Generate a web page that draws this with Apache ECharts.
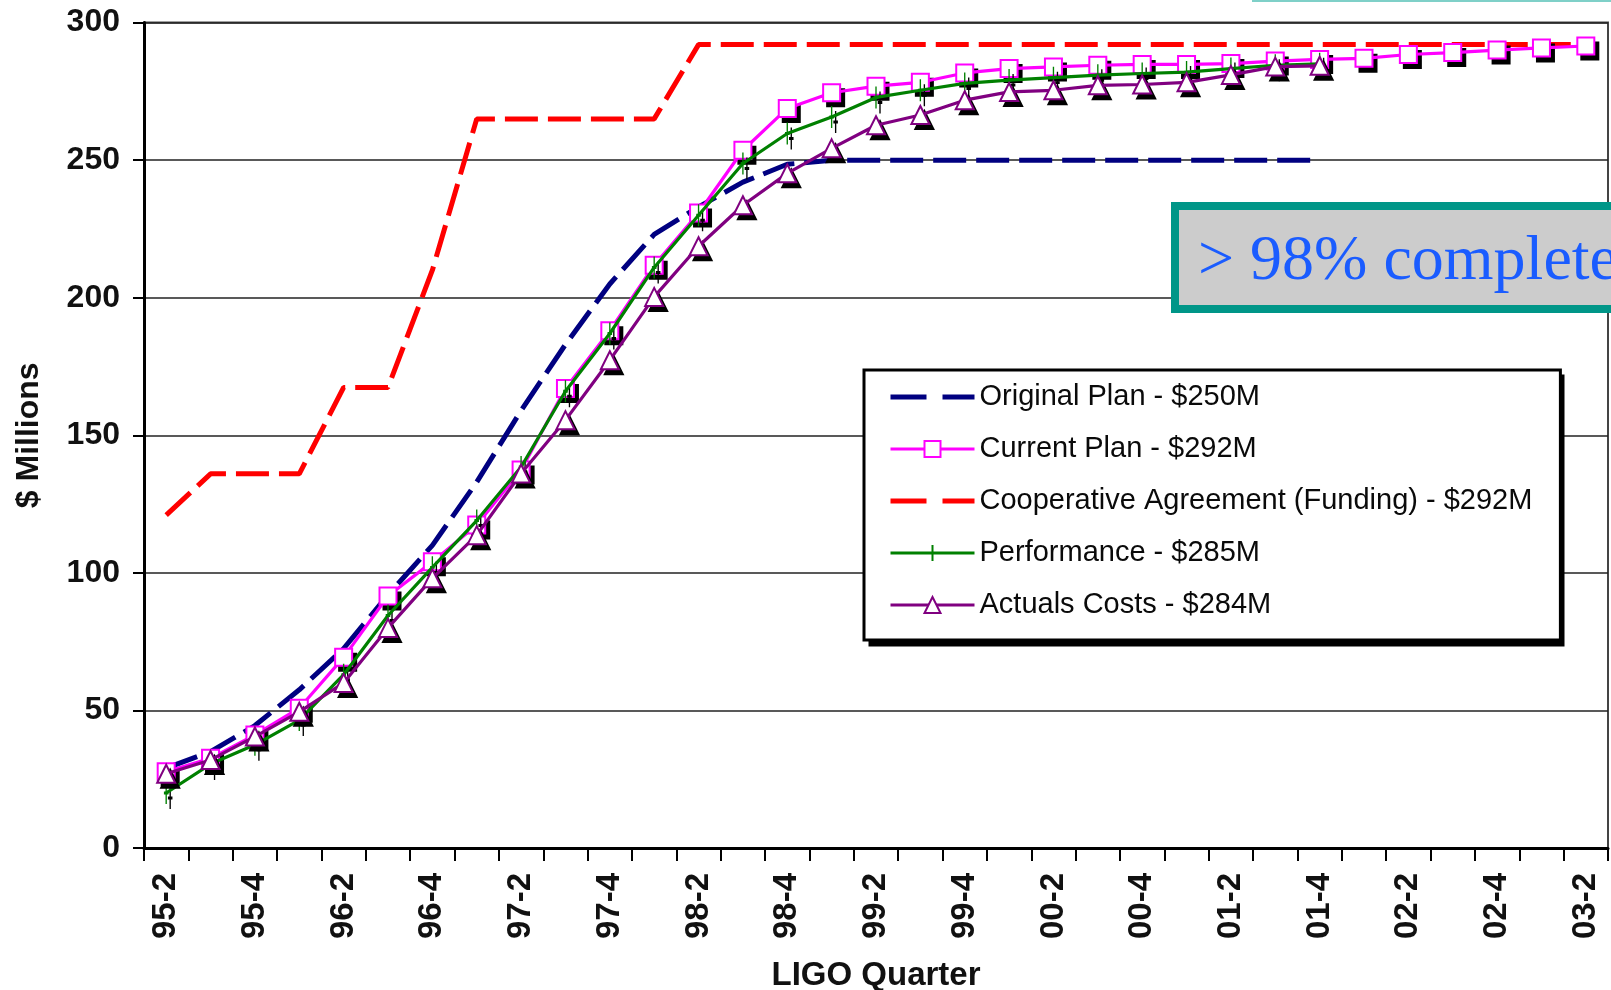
<!DOCTYPE html>
<html><head><meta charset="utf-8">
<script src="https://cdn.jsdelivr.net/npm/echarts@6/dist/echarts.min.js"></script>
<style>html,body{margin:0;padding:0;background:#fff}#c{width:1611px;height:990px}</style>
</head><body><div id="c"></div>
<script>
const quarters = ['95-2','95-3','95-4','96-1','96-2','96-3','96-4','97-1','97-2','97-3','97-4','98-1','98-2','98-3','98-4','99-1','99-2','99-3','99-4','00-1','00-2','00-3','00-4','01-1','01-2','01-3','01-4','02-1','02-2','02-3','02-4','03-1','03-2'];

const originalPlan = [29,35,44.5,57.5,72.5,92,110,133,159,183,205,223,233,242,248.5,250,250,250,250,250,250,250,250,250,250,250,250];
const currentPlan = [27.7,32.6,41.1,50.8,69.3,91.6,104,117.4,137.4,167,188,211.8,230.8,253.6,268.8,274.5,276.9,278.3,281.7,283.3,283.9,284.5,284.8,284.8,285.1,286,286.6,287,288.4,289.1,290,290.8,291.5];
const cooperativeAgreement = [121,136,136,136,167.4,167.4,210,265,265,265,265,265,292,292,292,292,292,292,292,292,292,292,292,292,292,292,292,292,292,292,292,292,292];
const performance = [20,30.5,37.5,46.5,63,84.5,102,119,138.5,166,187,211,230,248.8,259.7,265.7,272.8,275.4,277.9,279.1,280,280.9,281.5,282,283.3,284.5,285];
const actualCosts = [27,32,40.5,49.5,60,80,98,113.7,136.1,155.5,177.3,200.3,218.7,233.6,245.2,254.3,262.7,266.4,271.8,274.8,275.4,277.2,277.5,278.3,281,284,284.3];

const seriesNames = ['Original Plan - $250M','Current Plan - $292M','Cooperative Agreement (Funding) - $292M','Performance - $285M','Actuals Costs - $284M'];

const FONT = '"Liberation Sans", Arial, sans-serif';
const PLUS = 'path://M5,0L5,22M0,11L10,11';
const hidden = 'rgba(0,0,0,0)';

function shadowSeries(data, symbol, size, z) {
  return {name:'_shadow' + z, type:'line', data:data, symbol:symbol, symbolSize:size, symbolOffset:[4,5], symbolKeepAspect:true,
    showAllSymbol:true, z:z, silent:true,
    lineStyle:{opacity:0, width:0},
    itemStyle:{color:'#000', borderColor:'#000', borderWidth:2}};
}

const chart = echarts.init(document.getElementById('c'), null, {renderer:'canvas'});
chart.setOption({
  animation: false,
  backgroundColor: '#fff',
  grid: {left:144, right:3, top:22.6, bottom:142, show:true, borderColor:'#444', borderWidth:2, backgroundColor:'transparent', containLabel:false, outerBoundsMode:'none'},
  xAxis: {
    type:'category', data: quarters, boundaryGap:true,
    name:'LIGO Quarter', nameLocation:'middle', nameGap:111,
    nameTextStyle:{fontFamily:FONT, fontWeight:'bold', fontSize:33, color:'#111'},
    axisLine:{show:true, lineStyle:{color:'#000', width:3}},
    axisTick:{show:true, interval:0, length:13, lineStyle:{color:'#000', width:2}},
    axisLabel:{interval:1, rotate:90, margin:25, fontFamily:FONT, fontWeight:'bold', fontSize:33, color:'#111'},
    splitLine:{show:false}
  },
  yAxis: {
    type:'value', min:0, max:300, interval:50,
    name:'$ Millions', nameLocation:'middle', nameGap:99,
    nameTextStyle:{fontFamily:FONT, fontWeight:'bold', fontSize:32, color:'#111'},
    axisLine:{show:true, lineStyle:{color:'#000', width:3}},
    axisTick:{show:true, length:11, lineStyle:{color:'#000', width:2}},
    axisLabel:{margin:24, fontFamily:FONT, fontWeight:'bold', fontSize:32, color:'#111'},
    splitLine:{show:true, lineStyle:{color:'#222', width:1.6}}
  },
  legend: {
    orient:'vertical', left:864, top:370, z:30,
    data: [
      {name:seriesNames[0], lineStyle:{width:5, type:[36,16], color:'#000080'}, itemStyle:{color:hidden, borderColor:hidden, borderWidth:0}},
      {name:seriesNames[1], lineStyle:{width:3, color:'#ff00ff'}},
      {name:seriesNames[2], lineStyle:{width:5, type:[36,16], color:'#ff0000'}, itemStyle:{color:hidden, borderColor:hidden, borderWidth:0}},
      {name:seriesNames[3], lineStyle:{width:3, color:'#008000'}},
      {name:seriesNames[4], lineStyle:{width:3, color:'#800080'}}
    ],
    backgroundColor:'#fff', borderColor:'#000', borderWidth:3,
    padding:[12,28,20,24],
    itemWidth:84, itemHeight:20, itemGap:22,
    textStyle:{fontFamily:FONT, fontSize:29, color:'#0a0a0a', lineHeight:30},
    selectedMode:false
  },
  series: [
    {name:seriesNames[0], type:'line', data:originalPlan, symbol:'none', z:2,
     lineStyle:{color:'#000080', width:5, type:[33,10]}, itemStyle:{color:'#000080'}},
    {name:seriesNames[2], type:'line', data:cooperativeAgreement, symbol:'none', z:2,
     lineStyle:{color:'#ff0000', width:5, type:[33,10]}, itemStyle:{color:'#ff0000'}},
    shadowSeries(currentPlan, 'rect', 17, 3),
    {name:seriesNames[1], type:'line', data:currentPlan, symbol:'rect', symbolSize:17, z:4, showAllSymbol:true,
     lineStyle:{color:'#ff00ff', width:3.2},
     itemStyle:{color:'#fff', borderColor:'#ff00ff', borderWidth:2}},
    shadowSeries(performance, PLUS, [10,22], 5),
    {name:seriesNames[3], type:'line', data:performance, symbol:PLUS, symbolSize:[10,22], symbolKeepAspect:true, z:6, showAllSymbol:true,
     lineStyle:{color:'#008000', width:3.2},
     itemStyle:{color:'#008000', borderColor:'#008000', borderWidth:2}},
    shadowSeries(actualCosts, 'triangle', 18, 7),
    {name:seriesNames[4], type:'line', data:actualCosts, symbol:'triangle', symbolSize:18, z:8, showAllSymbol:true,
     lineStyle:{color:'#800080', width:3.2},
     itemStyle:{color:'#fff', borderColor:'#800080', borderWidth:2}}
  ],
  graphic: [
    {type:'rect', z:29, shape:{x:868.5, y:374.5, width:696, height:272}, style:{fill:'#000'}},
    {type:'line', z:100, shape:{x1:1252, y1:1, x2:1611, y2:1}, style:{stroke:'#7fd0c8', lineWidth:2}},
    {type:'rect', z:100, shape:{x:1175, y:206, width:460, height:103}, style:{fill:'#cccccc', stroke:'#009688', lineWidth:8}},
    {type:'text', z:101, left:1198, top:230, style:{text:'> 98% complete', font:'64px "Liberation Serif", "Times New Roman", serif', fill:'#1a5cff'}}
  ]
});
</script></body></html>
